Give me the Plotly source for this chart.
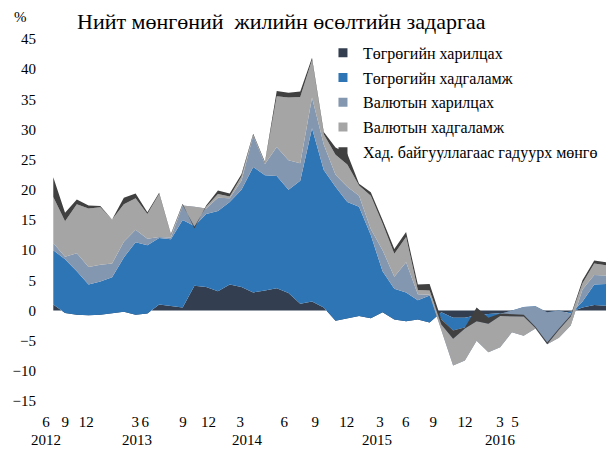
import plotly.graph_objects as go

# Monthly observations, 2012-06 .. 2016-05
months = [f"{y}-{m:02d}" for y in range(2012, 2017) for m in range(1, 13)][5:53]

# Contributions to annual broad money growth (percentage points)
tog_current = [1.0, -0.4, -0.7, -0.8, -0.7, -0.4, -0.2, -0.7, -0.5, 1.0, 0.7, 0.5,
               4.1, 3.9, 3.2, 4.3, 3.9, 3.0, 3.3, 3.7, 2.9, 1.1, 1.5, 0.5,
               -1.7, -1.3, -0.9, -1.3, -0.3, -1.5, -1.8, -1.5, -2.0, -0.3, -1.2, -1.2,
               -0.8, -0.6, -0.4, -0.3, -0.3, -0.3, -0.5, -0.3, -0.2, 0.5, 0.9, 0.8]
tog_deposit = [9.0, 8.9, 7.2, 5.1, 5.5, 5.9, 9.0, 12.0, 11.3, 11.0, 11.1, 14.5,
               9.9, 12.1, 13.3, 13.7, 16.1, 20.8, 19.1, 18.6, 17.1, 20.4, 28.7, 22.8,
               22.2, 19.3, 18.1, 13.8, 6.8, 5.1, 4.8, 3.2, 4.5, -1.2, -2.1, -1.6,
               -0.7, -0.9, -0.2, 0.3, 0.9, 1.0, 0.2, 0.3, -0.3, 1.0, 3.4, 3.6]
fx_current = [1.2, 0.4, 3.0, 2.9, 2.8, 2.3, 2.6, 2.1, 1.1, 0.2, 0.3, 2.4,
              3.2, 0.9, 2.2, 0.6, 1.5, 5.2, 1.9, 4.8, 4.9, 2.9, 5.1, 4.2,
              2.0, 2.5, 1.8, 1.0, 3.5, 2.0, 5.0, 1.0, 0.1, -1.8, -5.8, -5.5,
              -3.5, -5.4, -5.5, -3.6, -4.8, -3.7, -5.3, -4.5, -2.0, 2.0, 1.6, 1.4]
fx_deposit = [7.6, 5.9, 8.1, 9.7, 9.5, 7.3, 6.2, 5.2, 4.1, 7.1, 0.4, 0.1,
              -3.3, 0.3, 0.6, 0.3, 0.7, 0.1, 0.1, 8.4, 10.4, 11.0, 6.2, 1.7,
              3.3, 3.7, 1.7, 5.5, 4.4, 3.8, 4.2, 0.7, 0.7, 1.0, 4.4, 5.3,
              3.2, 4.7, 5.2, 2.7, 3.2, 0.1, 0.0, 1.3, 1.5, 1.0, 1.9, 1.7]
currency_out = [3.3, 1.4, 0.8, 0.5, 0.2, 0.0, 1.1, 0.8, 0.3, 0.2, 0.2, 0.2,
                -0.3, 0.2, 0.6, 0.5, 0.4, 0.2, 0.2, 0.9, 0.8, 0.9, 0.4, 0.4,
                1.2, 1.8, 0.3, 0.6, 0.6, 0.8, 0.8, 0.9, 1.1, 0.8, 1.4, 0.2,
                2.3, 1.0, 0.4, 0.3, 0.3, 0.2, 0.3, 0.2, 0.2, 0.5, 0.5, 0.5]

series_names = ["Төгрөгийн харилцах", "Төгрөгийн хадгаламж", "Валютын харилцах",
                "Валютын хадгаламж", "Хад. байгууллагаас гадуурх мөнгө"]
series_values = [tog_current, tog_deposit, fx_current, fx_deposit, currency_out]
colors = ["#333F50", "#2E75B6", "#8497B0", "#A5A5A5", "#404040"]

month_tick_labels = ["6", "9", "12", "3", "6", "9", "12", "3", "6", "9", "12",
                     "3", "6", "9", "12", "3", "5"]
year_tick_labels = ["2012", "2013", "2014", "2015", "2016"]
# tick label placement (as drawn in the original figure, in month-index units)
month_tick_pos = [-0.62, 1.02, 2.80, 6.97, 7.82, 11.02, 13.19, 15.89, 19.63, 22.27,
                  24.96, 27.79, 29.98, 32.32, 35.02, 37.99, 39.27]
year_tick_pos = [-0.62, 7.12, 16.47, 27.52, 37.99]

x = list(range(len(months)))
FONT = "Liberation Serif"

fig = go.Figure()
for name, vals, col in zip(series_names, series_values, colors):
    fig.add_trace(go.Scatter(
        x=x, y=vals, name=name, mode="lines", stackgroup="one",
        line=dict(width=0, color=col), fillcolor=col, showlegend=False,
        hovertemplate="%{y}<extra>" + name + "</extra>"))

for i, (name, col) in enumerate(zip(series_names, colors)):
    fig.add_trace(go.Scatter(
        x=[None], y=[None], name=name, mode="markers", legendgroup=f"g{i}",
        marker=dict(symbol="square", size=9, color=col), showlegend=True))

fig.add_trace(go.Scatter(x=[None], y=[None], xaxis="x2", showlegend=False,
                         hoverinfo="skip"))

fig.update_layout(
    template="none",
    width=614, height=449,
    margin=dict(l=46, r=8, t=39, b=48),
    paper_bgcolor="white", plot_bgcolor="white",
    font=dict(family=FONT, size=15, color="black"),
    title=dict(text="Нийт мөнгөний  жилийн өсөлтийн задаргаа",
               font=dict(family=FONT, size=22, color="black"),
               x=77 / 614, xanchor="left", xref="container",
               y=1 - 21 / 449, yanchor="middle", yref="container"),
    xaxis=dict(range=[-0.62, 47], tickmode="array", tickvals=month_tick_pos,
               ticktext=month_tick_labels, showgrid=False, zeroline=False,
               showline=False, ticks="outside", ticklen=7, automargin=False,
               tickcolor="rgba(0,0,0,0)", tickfont=dict(family=FONT, size=15)),
    xaxis2=dict(range=[-0.62, 47], overlaying="x", anchor="y", side="bottom",
                tickmode="array", tickvals=year_tick_pos, ticktext=year_tick_labels,
                showgrid=False, zeroline=False, showline=False, ticks="outside",
                ticklen=25, tickcolor="rgba(0,0,0,0)", automargin=False,
                tickfont=dict(family=FONT, size=15)),
    yaxis=dict(range=[-15, 45], dtick=5, tick0=0, showgrid=False, zeroline=False,
               showline=False, ticks="outside", ticklen=6, automargin=False,
               tickcolor="rgba(0,0,0,0)", tickfont=dict(family=FONT, size=15)),
    legend=dict(x=0.4946, y=1.009, xanchor="left", yanchor="top",
                bgcolor="rgba(0,0,0,0)", font=dict(family=FONT, size=16),
                tracegroupgap=1, itemwidth=30),
    annotations=[dict(text="%", xref="paper", yref="paper",
                      x=-0.046, y=1.061, showarrow=False,
                      xanchor="center", yanchor="middle",
                      font=dict(family=FONT, size=15))],
)

fig.write_html("out.html", config={"displayModeBar": False},
               post_script="document.body.style.margin='0px';")
